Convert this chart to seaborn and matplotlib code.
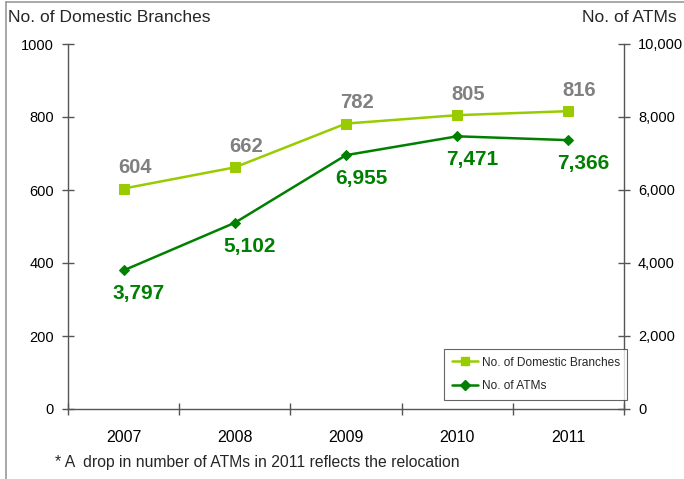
import matplotlib
matplotlib.use("Agg")
import matplotlib.pyplot as plt
from matplotlib.lines import Line2D
from matplotlib.ticker import FuncFormatter, FixedLocator
import seaborn as sns
import pandas as pd

years = ["2007", "2008", "2009", "2010", "2011"]
branches = [604, 662, 782, 805, 816]
atms = [3797, 5102, 6955, 7471, 7366]
branch_ticks = [0, 200, 400, 600, 800, 1000]
atm_ticks = [0, 2000, 4000, 6000, 8000, 10000]

sns.set_theme(style="white")
plt.rcParams['font.family'] = ['Liberation Sans', 'DejaVu Sans']

c_br = "#99CC00"
c_atm = "#008000"
c_lab = "#808080"
c_ax = "#555555"

fig = plt.figure(figsize=(6.84, 4.79), dpi=100)
ax = fig.add_axes([68/684, 1-409/479, (624-68)/684, (409-44)/479])
ax2 = ax.twinx()

pos = list(range(len(years)))
df = pd.DataFrame({"pos": pos, "year": years, "branches": branches, "atms": atms})

sns.lineplot(data=df, x="pos", y="branches", ax=ax, color=c_br, marker="s",
             markersize=7, markeredgecolor=c_br, linewidth=1.8, zorder=3)
sns.lineplot(data=df, x="pos", y="atms", ax=ax2, color=c_atm, marker="D",
             markersize=5.5, markeredgecolor=c_atm, linewidth=1.8, zorder=3)

ax.set_xlim(-0.5, len(years) - 0.5)
ax.set_ylim(0, 1000)
ax2.set_ylim(0, 10000)

for a in (ax, ax2):
    a.set_xlabel("")
    a.set_ylabel("")
    a.grid(False)
    for s in a.spines.values():
        s.set_color(c_ax)
        s.set_linewidth(1.0)
    a.spines["top"].set_visible(False)

ax.spines["right"].set_visible(False)
ax2.spines["left"].set_visible(False)
ax2.spines["bottom"].set_visible(False)

ax.set_yticks(branch_ticks)
ax.set_yticklabels([str(v) for v in branch_ticks])
ax2.set_yticks(atm_ticks)
ax2.yaxis.set_major_formatter(FuncFormatter(lambda v, p: f"{int(v):,}"))

ax.xaxis.set_major_locator(FixedLocator([p - 0.5 for p in pos] + [pos[-1] + 0.5]))
ax.xaxis.set_minor_locator(FixedLocator(pos))
ax.set_xticklabels([])
ax.set_xticklabels(years, minor=True)
ax.tick_params(axis="x", which="major", direction="inout", length=8, width=1, color=c_ax, bottom=True)
ax.tick_params(axis="x", which="minor", length=0, labelsize=11.5, pad=15, colors="black", bottom=True)
ax.tick_params(axis="y", direction="inout", length=8, width=1, color=c_ax, labelsize=10.5, left=True, pad=6)
ax2.tick_params(axis="y", direction="inout", length=8, width=1, color=c_ax, labelsize=10.5, right=True, pad=6)
for lab in ax.get_xticklabels(minor=True):
    lab.set_color("black")
for lab in ax.get_yticklabels() + ax2.get_yticklabels():
    lab.set_color("black")

for p, v in zip(pos, branches):
    ax.annotate(f"{v}", (p, v), xytext=(8, 8), textcoords="offset points",
                ha="center", va="bottom", fontsize=14.5, fontweight="bold", color=c_lab)
for p, v in zip(pos, atms):
    ax2.annotate(f"{v:,}", (p, v), xytext=(11, -10), textcoords="offset points",
                 ha="center", va="top", fontsize=15, fontweight="bold", color=c_atm)

handles = [
    Line2D([], [], color=c_br, marker="s", markersize=6, linewidth=1.8, markeredgecolor=c_br),
    Line2D([], [], color=c_atm, marker="D", markersize=5, linewidth=1.8, markeredgecolor=c_atm),
]
leg = ax2.legend(handles, ["No. of Domestic Branches", "No. of ATMs"], loc="lower right",
                 bbox_to_anchor=(1.017, 0.009), fontsize=8.6, frameon=True, fancybox=False,
                 edgecolor="#404040", handlelength=2.2, handletextpad=0.3, borderpad=0.65,
                 labelspacing=0.95)
leg.get_frame().set_linewidth(0.8)

fig.text(8/684, 1-17/479, "No. of Domestic Branches", fontsize=12.5, ha="left", va="center")
fig.text(677/684, 1-17/479, "No. of ATMs", fontsize=12.5, ha="right", va="center")
fig.text(55/684, 1-463/479, "* A  drop in number of ATMs in 2011 reflects the relocation",
         fontsize=11.3, ha="left", va="center")

fig.add_artist(Line2D([5.5/684, 5.5/684], [0, 1-1.5/479], transform=fig.transFigure,
                      color="#999999", linewidth=1.2))
fig.add_artist(Line2D([5.5/684, 1], [1-1.5/479, 1-1.5/479], transform=fig.transFigure,
                      color="#999999", linewidth=1.2))

fig.savefig("out.png", dpi=100)
